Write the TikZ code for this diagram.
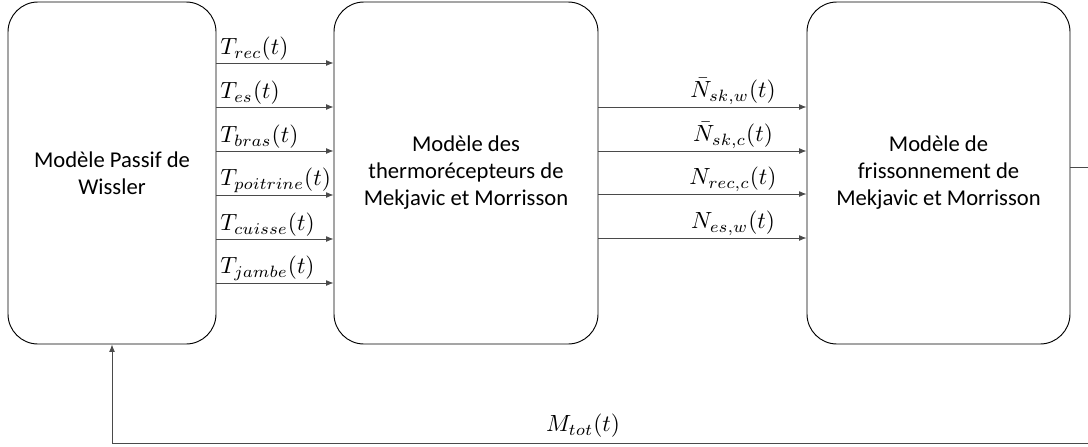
\documentclass[tikz,border=0pt]{standalone}
\usepackage{fontspec}
\setmainfont{Carlito}
\usepackage{xcolor}
\definecolor{traitGris}{HTML}{4A4A4A}
\usetikzlibrary{arrows.meta}

\newcommand{\grand}[1]{\scalebox{2.0}{$#1$}}

\tikzset{
  bloc/.style={draw, rounded corners=0.9cm, line width=0.8pt, align=center, minimum height=10.26cm, font=\fontsize{19.3}{23}\selectfont},
  fleche/.style={traitGris, line width=0.6pt, -{Latex[length=2.2mm, width=1.7mm]}},
  etiq/.style={inner sep=1pt}
}

\begin{document}
\begin{tikzpicture}[x=0.03cm, y=-0.03cm]
  \useasboundingbox (0,0) rectangle (1088,446);
  \node[bloc, minimum width=6.24cm] (wissler) at (112,173) {Modèle Passif de\\Wissler};
  \node[bloc, minimum width=7.92cm] (thermo) at (466,173) {Modèle des\\thermorécepteurs de\\Mekjavic et Morrisson};
  \node[bloc, minimum width=7.89cm] (frisson) at (938.5,173) {Modèle de\\frissonnement de\\Mekjavic et Morrisson};
  \coordinate (sortie) at (1088,167);
  \coordinate (coin) at (1088,443);
  \coordinate (retour) at (112,443);
  % temperatures
  \draw[fleche] (wissler.east |- 0,63) -- (thermo.west |- 0,63);
  \draw[fleche] (wissler.east |- 0,107) -- (thermo.west |- 0,107);
  \draw[fleche] (wissler.east |- 0,151) -- (thermo.west |- 0,151);
  \draw[fleche] (wissler.east |- 0,195) -- (thermo.west |- 0,195);
  \draw[fleche] (wissler.east |- 0,239) -- (thermo.west |- 0,239);
  \draw[fleche] (wissler.east |- 0,283) -- (thermo.west |- 0,283);
  \node[etiq, anchor=south west] (trec) at (219,62) {\grand{T_{rec}(t)}};
  \node[etiq, anchor=south west] (tes) at (219,106) {\grand{T_{es}(t)}};
  \node[etiq, anchor=south west] (tbras) at (219,150) {\grand{T_{bras}(t)}};
  \node[etiq, anchor=south west] (tpoitrine) at (219,194) {\grand{T_{poitrine}(t)}};
  \node[etiq, anchor=south west] (tcuisse) at (219,238) {\grand{T_{cuisse}(t)}};
  \node[etiq, anchor=south west] (tjambe) at (219,282) {\grand{T_{jambe}(t)}};
  % signaux nerveux
  \draw[fleche] (thermo.east |- 0,107) -- (frisson.west |- 0,107);
  \draw[fleche] (thermo.east |- 0,151) -- (frisson.west |- 0,151);
  \draw[fleche] (thermo.east |- 0,194) -- (frisson.west |- 0,194);
  \draw[fleche] (thermo.east |- 0,238) -- (frisson.west |- 0,238);
  \node[etiq, anchor=south] (nskw) at (733,106) {\grand{\bar{N}_{sk,w}(t)}};
  \node[etiq, anchor=south] (nskc) at (733,150) {\grand{\bar{N}_{sk,c}(t)}};
  \node[etiq, anchor=south] (nrecc) at (733,193) {\grand{N_{rec,c}(t)}};
  \node[etiq, anchor=south] (nesw) at (733,237) {\grand{N_{es,w}(t)}};
  % boucle de retour
  \draw[traitGris, line width=0.6pt] (frisson.east |- sortie) -- (sortie);
  \draw[fleche] (coin) -- (retour) -- (wissler.south);
  \node[etiq, anchor=south] (mtot) at (583,439) {\grand{M_{tot}(t)}};
\end{tikzpicture}
\end{document}
